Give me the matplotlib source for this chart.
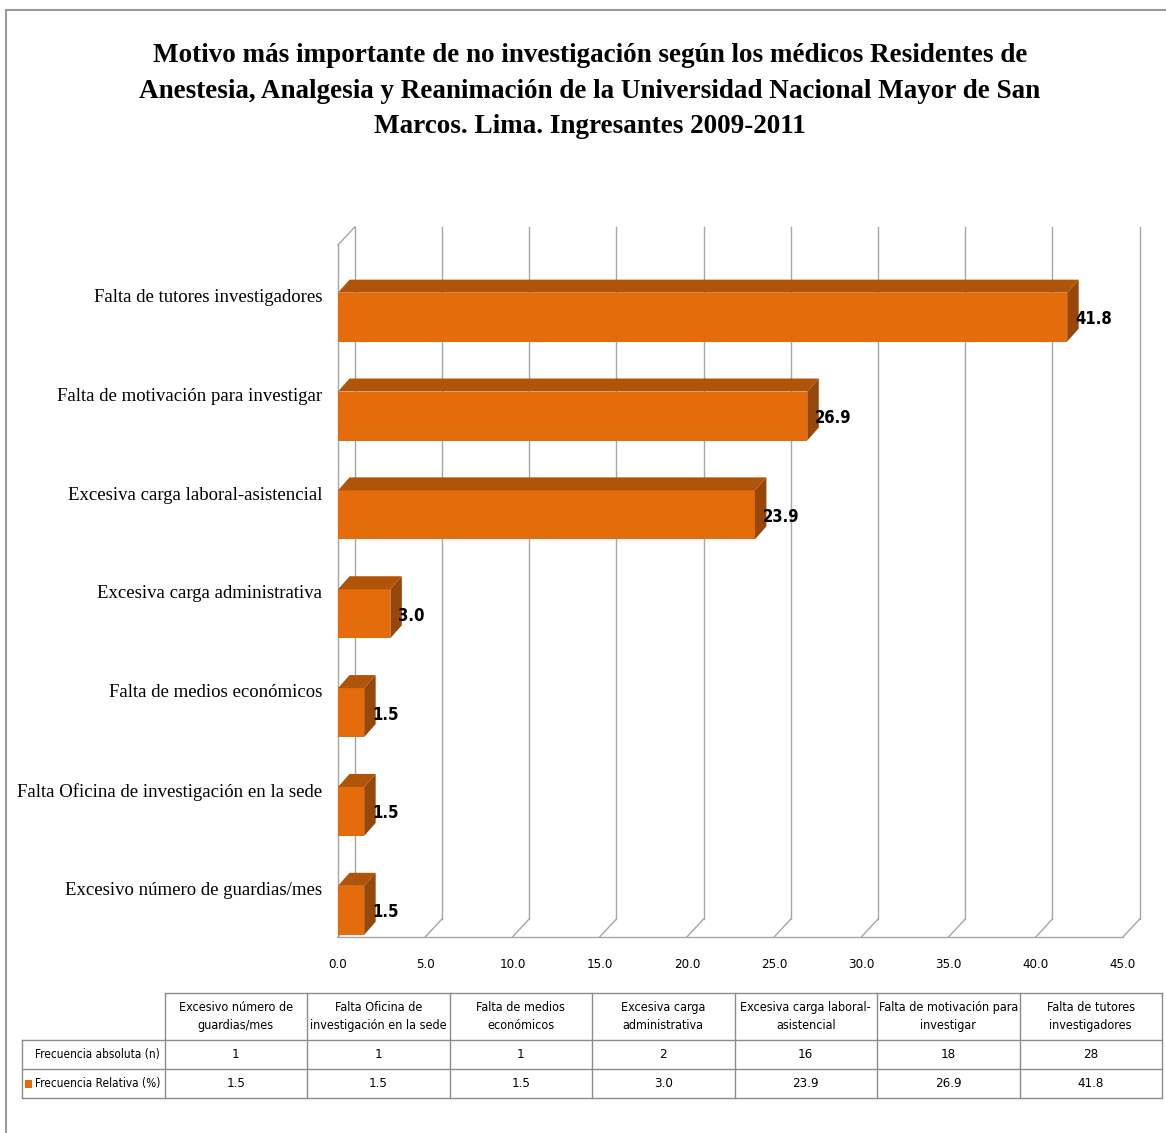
import matplotlib
matplotlib.use("Agg")
import matplotlib.pyplot as plt
from matplotlib.patches import Polygon, Rectangle
from matplotlib.lines import Line2D

categorias = ["Excesivo número de guardias/mes",
              "Falta Oficina de investigación en la sede",
              "Falta de medios económicos",
              "Excesiva carga administrativa",
              "Excesiva carga laboral-asistencial",
              "Falta de motivación para investigar",
              "Falta de tutores investigadores"]
cabeceras = ["Excesivo número de\nguardias/mes",
             "Falta Oficina de\ninvestigación en la sede",
             "Falta de medios\neconómicos",
             "Excesiva carga\nadministrativa",
             "Excesiva carga laboral-\nasistencial",
             "Falta de motivación para\ninvestigar",
             "Falta de tutores\ninvestigadores"]
frec_abs = [1, 1, 1, 2, 16, 18, 28]
frec_rel = [1.5, 1.5, 1.5, 3.0, 23.9, 26.9, 41.8]
xticks = [0, 5, 10, 15, 20, 25, 30, 35, 40, 45]
filas = ["Frecuencia absoluta (n)", "Frecuencia Relativa (%)"]

naranja = "#E46C0A"
arriba = "#B0540A"
lado = "#97470A"
gris = "#A6A6A6"
fuente = dict(family="DejaVu Sans", fontstretch="condensed")

W, H = 1166, 1133
fig = plt.figure(figsize=(W / 100, H / 100), dpi=100)

# marco del grafico
fig.add_artist(Line2D([6 / W, 6 / W], [0, 1 - 10 / H], color="#9A9A9A", lw=1.5))
fig.add_artist(Line2D([6 / W, 1], [1 - 10 / H, 1 - 10 / H], color="#9A9A9A", lw=1.5))

fig.text(0.506, 1 - 91 / H,
         "Motivo más importante de no investigación según los médicos Residentes de\n"
         "Anestesia, Analgesia y Reanimación de la Universidad Nacional Mayor de San\n"
         "Marcos. Lima. Ingresantes 2009-2011",
         ha="center", va="center", fontsize=19.5, fontweight="bold",
         family="Liberation Serif", linespacing=1.55)

# area del grafico (plano frontal)
x0, x1, yb, yt = 338, 1123, 937, 245
ax = fig.add_axes([x0 / W, 1 - yb / H, (x1 - x0) / W, (yb - yt) / H])
ax.set_xlim(0, 45)
ax.set_ylim(-0.5, 6.5)
ax.axis("off")

ppx = (x1 - x0) / 45.0
ppy = (yb - yt) / 7.0
pdx, pdy = 16.7 / ppx, 18 / ppy      # profundidad de las paredes
bdx, bdy = 11.5 / ppx, 13 / ppy      # profundidad de las barras

# lineas de division (pared del fondo y piso)
for t in xticks:
    ax.plot([t + pdx, t + pdx], [-0.5 + pdy, 6.5 + pdy], color=gris, lw=1, clip_on=False, zorder=1)
    ax.plot([t, t + pdx], [-0.5, -0.5 + pdy], color=gris, lw=1, clip_on=False, zorder=1)
    ax.text(t, -0.5 - 28 / ppy, "%.1f" % t, ha="center", va="center", fontsize=9.5, **fuente)
ax.plot([0, 45], [-0.5, -0.5], color=gris, lw=1, clip_on=False, zorder=1)
ax.plot([0, 0], [-0.5, 6.5], color=gris, lw=1, clip_on=False, zorder=1)
ax.plot([0, pdx], [6.5, 6.5 + pdy], color=gris, lw=1, clip_on=False, zorder=1)

# barras 3D
alto = 49 / ppy
desp = -0.23
for i, (cat, v) in enumerate(zip(categorias, frec_rel)):
    yc = i + desp
    ax.barh(yc, v, height=alto, color=naranja, zorder=3)
    top = yc + alto / 2
    bot = yc - alto / 2
    ax.add_patch(Polygon([(0, top), (v, top), (v + bdx, top + bdy), (bdx, top + bdy)],
                         closed=True, facecolor=arriba, edgecolor="none", zorder=3, clip_on=False))
    ax.add_patch(Polygon([(v, bot), (v + bdx, bot + bdy), (v + bdx, top + bdy), (v, top)],
                         closed=True, facecolor=lado, edgecolor="none", zorder=3, clip_on=False))
    ax.text(v + 8 / ppx, yc - 0.02, "%.1f" % v, ha="left", va="center",
            fontsize=12, fontweight="bold", zorder=4, **fuente)
    ax.text(-16 / ppx, i - 0.03, cat, ha="right", va="center",
            fontsize=13.5, family="Liberation Serif")

# tabla de datos
tx0, tx1, ty0, ty1 = 22, 1162, 993, 1098
tab = fig.add_axes([tx0 / W, 1 - ty1 / H, (tx1 - tx0) / W, (ty1 - ty0) / H])
tab.set_xlim(0, 8)
tab.set_ylim(105, 0)
tab.axis("off")
borde = "#8C8C8C"
lineas_y = [0, 47, 76, 105]
for y in lineas_y:
    tab.plot([0 if y > 0 else 1, 8], [y, y], color=borde, lw=1, clip_on=False)
for c in range(9):
    tab.plot([c, c], [0 if c > 0 else 47, 105], color=borde, lw=1, clip_on=False)
for j, cab in enumerate(cabeceras):
    tab.text(j + 1.5, 23.5, cab, ha="center", va="center", fontsize=9,
             linespacing=1.5, **fuente)
    tab.text(j + 1.5, 61.5, str(frec_abs[j]), ha="center", va="center", fontsize=9.5, **fuente)
    tab.text(j + 1.5, 90.5, "%.1f" % frec_rel[j], ha="center", va="center", fontsize=9.5, **fuente)
tab.text(0.97, 61.5, filas[0], ha="right", va="center", fontsize=8.5, **fuente)
tab.text(0.97, 90.5, filas[1], ha="right", va="center", fontsize=8.5, **fuente)
tab.add_patch(Rectangle((0.02, 86.5), 0.05, 8, facecolor=naranja, edgecolor="none"))

fig.savefig("out.png", dpi=100)
